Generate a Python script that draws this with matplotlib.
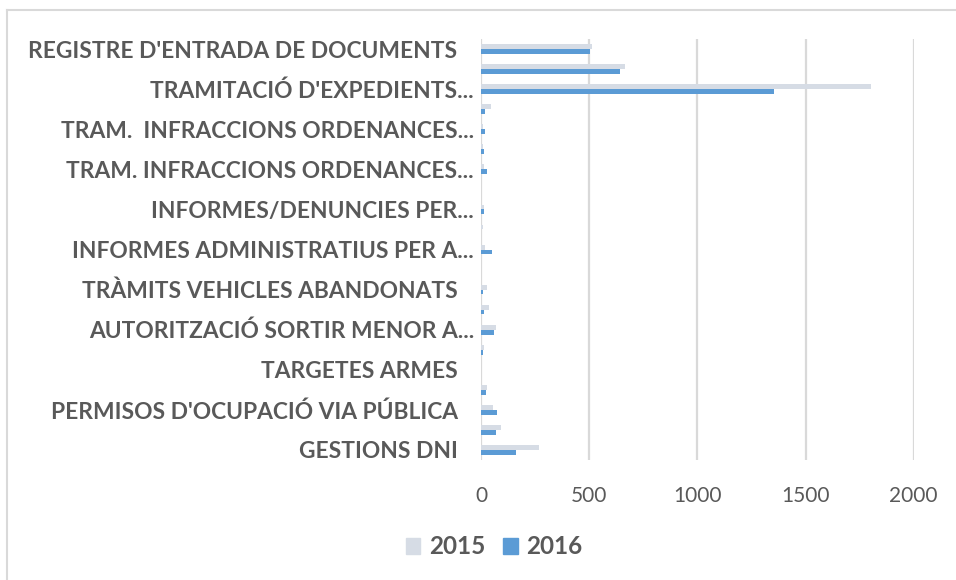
import numpy as np
import matplotlib
matplotlib.use('Agg')
import matplotlib.pyplot as plt
from matplotlib.patches import Patch
from matplotlib.lines import Line2D

# categories from top to bottom (only every other one is labelled in the original)
categorias = ["REGISTRE D'ENTRADA DE DOCUMENTS   ", '',
              "TRAMITACIÓ D'EXPEDIENTS...", '',
              'TRAM.  INFRACCIONS ORDENANCES...', '',
              'TRAM. INFRACCIONS ORDENANCES...', '',
              'INFORMES/DENUNCIES PER...', '',
              'INFORMES ADMINISTRATIUS PER A...', '',
              'TRÀMITS VEHICLES ABANDONATS   ', '',
              'AUTORITZACIÓ SORTIR MENOR A...', '',
              'TARGETES ARMES   ', '',
              "PERMISOS D'OCUPACIÓ VIA PÚBLICA   ", '',
              'GESTIONS DNI   ']
valors_2015 = [512, 667, 1801, 45, 8, 8, 14, 0, 15, 8, 20,
               0, 26, 38, 68, 14, 0, 26, 56, 91, 269]
valors_2016 = [506, 644, 1355, 20, 20, 15, 26, 0, 14, 0, 50,
               0, 8, 15, 62, 8, 0, 25, 73, 68, 162]
xticks = [0, 500, 1000, 1500, 2000]

gris = '#D6DCE5'
blau = '#5B9BD5'
text_color = '#595959'

plt.rcParams['font.family'] = ['Lato', 'DejaVu Sans']

fig = plt.figure(figsize=(9.56, 5.80), dpi=100)
ax = fig.add_axes([481 / 956, 1 - 460 / 580, 432.7 / 956, 421 / 580])

y = np.arange(len(categorias))
h = 0.24
ax.barh(y - h / 2, valors_2015, height=h, color=gris, label='2015', zorder=3)
ax.barh(y + h / 2, valors_2016, height=h, color=blau, label='2016', zorder=3)

ax.set_xlim(0, 2000)
ax.set_ylim(len(categorias) - 0.5, -0.5)
ax.set_xticks(xticks)
ax.set_xticklabels([str(t) for t in xticks], fontsize=15, color=text_color)
ax.set_yticks(y)
ax.set_yticklabels(categorias, fontsize=16.4, fontweight='bold', color=text_color)
ax.tick_params(axis='x', length=0, pad=19)
ax.tick_params(axis='y', length=0, pad=5)
for s in ax.spines.values():
    s.set_visible(False)
ax.grid(axis='x', color='#D9D9D9', linewidth=1.6, zorder=0)
ax.set_axisbelow(True)

handles = [Patch(color=gris, label='2015'), Patch(color=blau, label='2016')]
fig.legend(handles=handles, loc='center', bbox_to_anchor=(494 / 956, 1 - 547 / 580),
           ncol=2, frameon=False, handlelength=0.6, handleheight=0.6,
           handletextpad=0.35, columnspacing=0.75,
           prop={'size': 17.5, 'weight': 'bold'}, labelcolor=text_color)

# chart border (only top and left edges visible)
fig.add_artist(Line2D([7 / 956, 7 / 956], [0, 1 - 10 / 580], color='#D9D9D9', linewidth=1.5))
fig.add_artist(Line2D([7 / 956, 1], [1 - 10 / 580, 1 - 10 / 580], color='#D9D9D9', linewidth=1.5))

fig.savefig('out.png', dpi=100)
